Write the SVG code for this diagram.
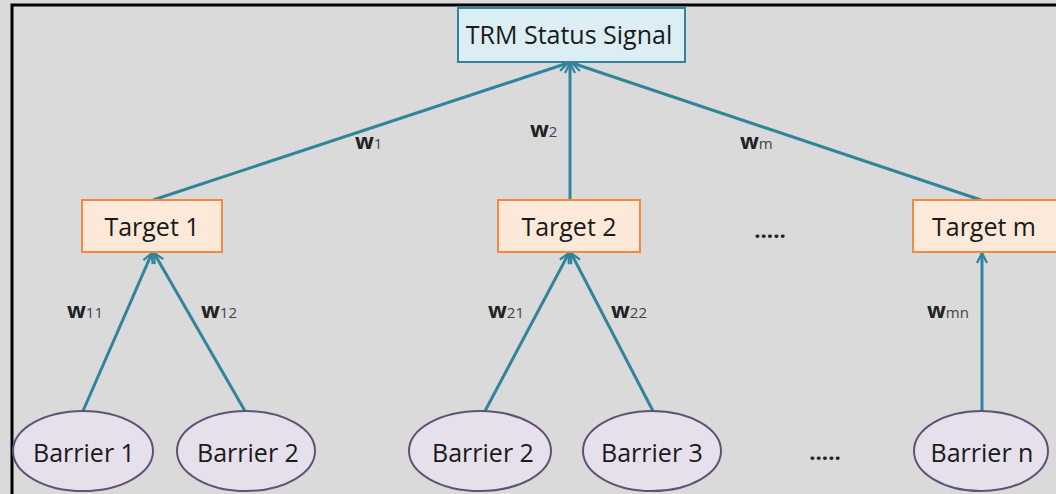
<svg xmlns="http://www.w3.org/2000/svg" width="1056" height="494" viewBox="0 0 1056 494">
<defs>
<marker id="arr" viewBox="0 0 12 12" refX="11" refY="6" markerWidth="12" markerHeight="12" markerUnits="userSpaceOnUse" orient="auto">
<path d="M1,1 L11,6 L1,11" fill="none" stroke="#31849b" stroke-width="2.2"/>
</marker>
<style>
.bg{fill:#dadada}
.frame{fill:none;stroke:#000;stroke-width:3}
.lbl{font-family:"Open Sans","Liberation Sans",sans-serif;font-size:25px;fill:#1a1a1a;text-anchor:middle}
.trm{fill:#dbeef4;stroke:#31849b;stroke-width:2}
.tgt{fill:#fde9d9;stroke:#f08a3c;stroke-width:2}
.bar{fill:#e6e0ec;stroke:#5f5273;stroke-width:2}
.con{stroke:#31849b;stroke-width:3;fill:none;marker-end:url(#arr)}
.w{font-family:"Open Sans","Liberation Sans",sans-serif;font-size:22px;font-weight:bold;fill:#222}
.sub{font-size:15px;font-weight:normal;fill:#444}
.dots{font-family:"Open Sans","Liberation Sans",sans-serif;font-size:22px;font-weight:bold;fill:#222;text-anchor:middle}
</style>
</defs>
<rect class="bg" x="0" y="0" width="1056" height="494"/>
<rect class="frame" x="12" y="5" width="1060" height="500"/>
<g id="connectors">
<line class="con" x1="153" y1="200" x2="568" y2="63"/>
<line class="con" x1="570" y1="200" x2="570" y2="63"/>
<line class="con" x1="981" y1="200" x2="572" y2="63"/>
<line class="con" x1="83" y1="411" x2="152" y2="253"/>
<line class="con" x1="245" y1="411" x2="154" y2="253"/>
<line class="con" x1="485" y1="411" x2="569" y2="253"/>
<line class="con" x1="653" y1="411" x2="571" y2="253"/>
<line class="con" x1="982" y1="411" x2="982" y2="253"/>
<text class="w" x="355" y="149">w<tspan class="sub">1</tspan></text>
<text class="w" x="530" y="137">w<tspan class="sub">2</tspan></text>
<text class="w" x="740" y="149">w<tspan class="sub">m</tspan></text>
<text class="w" x="67" y="318">w<tspan class="sub">11</tspan></text>
<text class="w" x="201" y="318">w<tspan class="sub">12</tspan></text>
<text class="w" x="488" y="318">w<tspan class="sub">21</tspan></text>
<text class="w" x="611" y="318">w<tspan class="sub">22</tspan></text>
<text class="w" x="927" y="318">w<tspan class="sub">mn</tspan></text>
</g>
<g id="trm">
<rect class="trm" x="458" y="8" width="227" height="54"/>
<text class="lbl" x="569" y="44">TRM Status Signal</text>
</g>
<g id="target1">
<rect class="tgt" x="82" y="200" width="140" height="52"/>
<text class="lbl" x="152" y="236">Target 1</text>
</g>
<g id="target2">
<rect class="tgt" x="498" y="200" width="142" height="52"/>
<text class="lbl" x="569" y="236">Target 2</text>
</g>
<g id="targetm">
<rect class="tgt" x="913" y="200" width="146" height="52"/>
<text class="lbl" x="984" y="236">Target m</text>
</g>
<text class="dots" x="770" y="238">.....</text>
<g id="barrier1">
<ellipse class="bar" cx="83" cy="451" rx="70" ry="40"/>
<text class="lbl" x="84" y="462">Barrier 1</text>
</g>
<g id="barrier2a">
<ellipse class="bar" cx="246" cy="451" rx="69" ry="40"/>
<text class="lbl" x="248" y="462">Barrier 2</text>
</g>
<g id="barrier2b">
<ellipse class="bar" cx="480" cy="451" rx="71" ry="40"/>
<text class="lbl" x="483" y="462">Barrier 2</text>
</g>
<g id="barrier3">
<ellipse class="bar" cx="652" cy="451" rx="69" ry="40"/>
<text class="lbl" x="652" y="462">Barrier 3</text>
</g>
<text class="dots" x="825" y="460">.....</text>
<g id="barriern">
<ellipse class="bar" cx="981" cy="451" rx="67" ry="40"/>
<text class="lbl" x="982" y="462">Barrier n</text>
</g>
</svg>
